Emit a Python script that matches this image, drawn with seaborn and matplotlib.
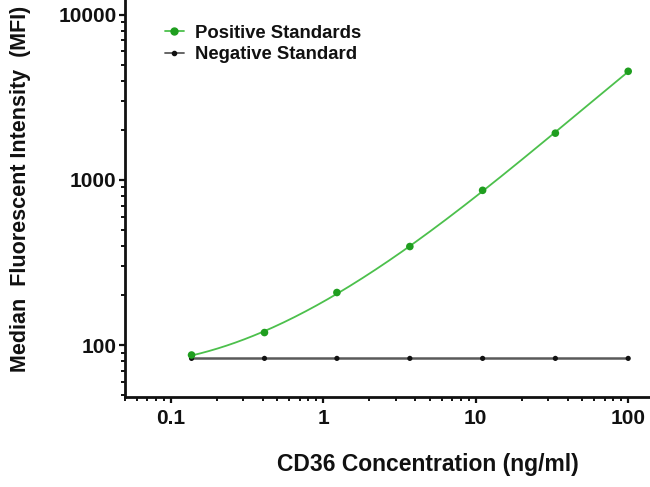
import matplotlib
matplotlib.use("Agg")
import matplotlib.pyplot as plt
from matplotlib.lines import Line2D
from matplotlib.ticker import LogLocator, FixedLocator, FixedFormatter, NullFormatter
import numpy as np
import pandas as pd
import seaborn as sns

# 3-fold dilution series of the standard (ng/ml)
concentration = [0.137, 0.412, 1.23, 3.70, 11.1, 33.3, 100.0]
positive_mfi = [87, 119, 208, 395, 865, 1920, 4550]
negative_mfi = [83, 83, 83, 83, 83, 83, 83]

x_ticks = [0.1, 1, 10, 100]
x_tick_labels = ["0.1", "1", "10", "100"]
y_ticks = [100, 1000, 10000]
y_tick_labels = ["100", "1000", "10000"]

df = pd.DataFrame({"conc": concentration, "pos": positive_mfi, "neg": negative_mfi})

# smooth standard curve: cubic fit in log-log space
coef = np.polyfit(np.log10(df["conc"]), np.log10(df["pos"]), 3)
xs = np.logspace(np.log10(df["conc"].min()), np.log10(df["conc"].max()), 200)
fit = pd.DataFrame({"conc": xs, "pos": 10 ** np.polyval(coef, np.log10(xs))})

sns.set_theme(style="ticks", rc={"text.color": "#111111",
                                 "axes.labelcolor": "#111111",
                                 "xtick.color": "#111111",
                                 "ytick.color": "#111111"})
plt.rcParams["font.family"] = ["Liberation Sans", "DejaVu Sans"]

fig = plt.figure(figsize=(6.5, 4.87), dpi=100)
ax = fig.add_axes([0.192, 0.185, 0.808, 0.815])

green_line = "#4cc04c"
green_mark = "#1f9e1f"

sns.lineplot(data=fit, x="conc", y="pos", ax=ax, color=green_line, linewidth=1.3)
sns.lineplot(data=df, x="conc", y="neg", ax=ax, color="#5a5a5a", linewidth=1.8)
sns.scatterplot(data=df, x="conc", y="neg", ax=ax, color="#111111", s=14,
                edgecolor="none", zorder=3)
sns.scatterplot(data=df, x="conc", y="pos", ax=ax, color=green_mark, s=30,
                edgecolor="none", zorder=4)

ax.set_xscale("log")
ax.set_yscale("log")
ax.set_xlim(0.05, 139)
ax.set_ylim(48.5, 12300)

ax.xaxis.set_major_locator(FixedLocator(x_ticks))
ax.xaxis.set_major_formatter(FixedFormatter(x_tick_labels))
ax.yaxis.set_major_locator(FixedLocator(y_ticks))
ax.yaxis.set_major_formatter(FixedFormatter(y_tick_labels))
ax.xaxis.set_minor_locator(LogLocator(base=10, subs=np.arange(2, 10)))
ax.yaxis.set_minor_locator(LogLocator(base=10, subs=np.arange(2, 10)))
ax.xaxis.set_minor_formatter(NullFormatter())
ax.yaxis.set_minor_formatter(NullFormatter())

for side in ["top", "right"]:
    ax.spines[side].set_visible(False)
for side in ["left", "bottom"]:
    ax.spines[side].set_linewidth(2)
    ax.spines[side].set_color("#111111")

ax.tick_params(which="major", length=4, width=1.6, color="#111111",
               labelsize=15, pad=2)
ax.tick_params(which="minor", length=3, width=1.4, color="#111111")
ax.tick_params(axis="x", pad=5)
for lbl in ax.get_xticklabels() + ax.get_yticklabels():
    lbl.set_fontweight("bold")

ax.set_xlabel("CD36 Concentration (ng/ml)", fontsize=16.5, fontweight="bold")
ax.set_ylabel("Median  Fluorescent Intensity  (MFI)", fontsize=15.5,
              fontweight="bold")
ax.xaxis.set_label_coords(0.577, -0.142)
ax.yaxis.set_label_coords(-0.178, 0.524)

handles = [
    Line2D([], [], color=green_line, marker="o", markersize=5,
           markerfacecolor=green_mark, markeredgecolor=green_mark, linewidth=1.3),
    Line2D([], [], color="#5a5a5a", marker="o", markersize=3,
           markerfacecolor="#111111", markeredgecolor="#111111", linewidth=1.3),
]
ax.legend(handles, ["Positive Standards", "Negative Standard"],
          loc="upper left", bbox_to_anchor=(0.045, 0.98), frameon=False,
          handlelength=1.0, handletextpad=0.6, labelspacing=0.25,
          prop={"size": 13.3, "weight": "bold"})

fig.savefig("out.png", dpi=100)
